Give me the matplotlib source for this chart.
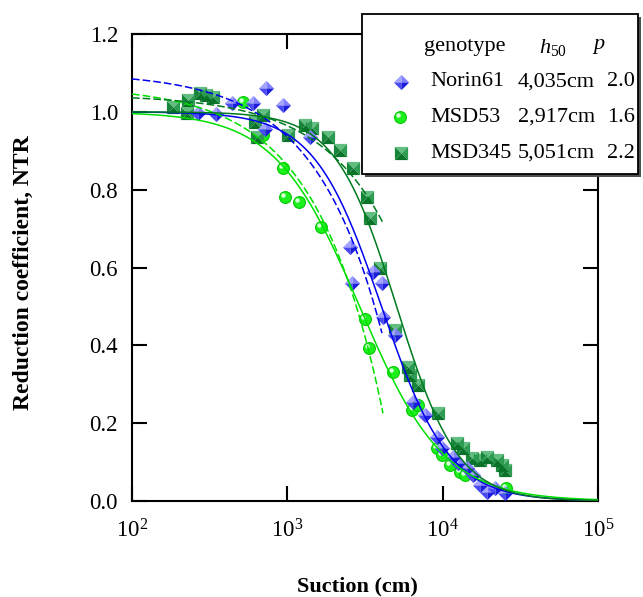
import numpy as np
import matplotlib
matplotlib.use('Agg')
import matplotlib.pyplot as plt
from matplotlib.path import Path
from matplotlib.patches import Rectangle
from matplotlib.markers import MarkerStyle
from matplotlib.transforms import Affine2D
from matplotlib.ticker import FixedLocator, FixedFormatter, NullLocator

plt.rcParams['font.family'] = ['Liberation Serif', 'DejaVu Serif']
plt.rcParams['mathtext.fontset'] = 'custom'
plt.rcParams['mathtext.rm'] = 'Liberation Serif'
plt.rcParams['mathtext.it'] = 'Liberation Serif:italic'
plt.rcParams['mathtext.bf'] = 'Liberation Serif:bold'

# ---------------- data ----------------
genotypes = ['Norin61', 'MSD53', 'MSD345']
h50 = [4035, 2917, 5051]
p_exp = [2.0, 1.6, 2.2]
h50_labels = ['4,035cm', '2,917cm', '5,051cm']
p_labels = ['2.0', '1.6', '2.2']

norin_h = [266, 347, 441, 601, 729, 938, 718, 1400, 2530, 3565, 4065, 2606, 4130, 4930,
           6440, 7700, 9210, 9910, 11660, 12570, 14350, 15700, 17400, 19300, 21750, 25200]
norin_ntr = [0.997, 0.995, 1.023, 1.023, 1.062, 1.018, 0.956, 0.936, 0.653, 0.589, 0.560, 0.560,
             0.473, 0.427, 0.254, 0.221, 0.165, 0.136, 0.113, 0.098, 0.085, 0.067, 0.041,
             0.023, 0.033, 0.021]

msd53_h = [519, 700, 938, 966, 1189, 1648, 3163, 3357, 4790, 6350, 6940, 9200, 9910,
           11140, 12930, 13930, 25600]
msd53_ntr = [1.026, 0.940, 0.856, 0.781, 0.769, 0.704, 0.468, 0.393, 0.332, 0.234, 0.247,
             0.136, 0.118, 0.093, 0.075, 0.067, 0.033]

msd345_h = [184, 226, 229, 274, 299, 332, 619, 697, 638, 1009, 1300, 1442, 1828, 2184,
            2648, 3260, 3405, 3950, 4930, 5990, 6160, 6940, 9330, 12360, 13510, 15450,
            17380, 19280, 22370, 24100, 25180]
msd345_ntr = [1.013, 0.997, 1.031, 1.049, 1.044, 1.039, 0.974, 0.992, 0.936, 0.941, 0.967,
              0.959, 0.936, 0.902, 0.856, 0.781, 0.728, 0.599, 0.440, 0.344, 0.324, 0.298,
              0.226, 0.149, 0.136, 0.111, 0.105, 0.113, 0.105, 0.093, 0.080]

# linear (dashed) fits: NTR = a - b*h, drawn up to hmax
dash_a = [1.101, 1.066, 1.044]
dash_b = [1.647e-4, 2.035e-4, 7.97e-5]
dash_hmax = [4065, 4130, 4130]

line_colors = ['#0000ee', '#00e000', '#007a1e']

# ---------------- marker helpers ----------------
def tri(pts):
    return Path(pts + [pts[0]], [Path.MOVETO, Path.LINETO, Path.LINETO, Path.CLOSEPOLY])

diamond_faces = [
    (tri([(-1, 0), (0, 1), (0, 0)]), '#a4a4ff'),
    (tri([(0, 1), (1, 0), (0, 0)]), '#8080ff'),
    (tri([(-1, 0), (0, -1), (0, 0)]), '#4a4af4'),
    (tri([(1, 0), (0, -1), (0, 0)]), '#1c1cdc'),
]
square_faces = [
    (tri([(-1, 1), (1, 1), (0, 0)]), '#62be80'),
    (tri([(-1, 1), (-1, -1), (0, 0)]), '#17853a'),
    (tri([(1, 1), (1, -1), (0, 0)]), '#2e9b52'),
    (tri([(-1, -1), (1, -1), (0, 0)]), '#0a7329'),
]


def draw_faces(ax, x, y, faces, ms, z):
    for path, col in faces:
        ax.plot(x, y, linestyle='none', marker=path, markersize=ms,
                markerfacecolor=col, markeredgewidth=0, zorder=z)


def draw_spheres(ax, x, y, ms, z):
    ax.plot(x, y, linestyle='none', marker='o', markersize=ms,
            markerfacecolor='#1ef01e', markeredgecolor='#00c800',
            markeredgewidth=0.8, zorder=z)
    hl = MarkerStyle('o', transform=Affine2D().translate(-0.45, 0.45))
    ax.plot(x, y, linestyle='none', marker=hl, markersize=3.2,
            markerfacecolor='#d8ffd8', markeredgewidth=0, zorder=z + 0.01)


# ---------------- figure ----------------
W, H = 643, 597
fig = plt.figure(figsize=(W / 100, H / 100), dpi=100)
ax = fig.add_axes([132 / W, 1 - 501 / H, 466 / W, 467 / H])

ax.set_xscale('log')
ax.set_xlim(100, 1e5)
ax.set_ylim(0, 1.2)

# curves
hh = np.logspace(2, 5, 400)
for i in range(3):
    ntr = 1.0 / (1.0 + (hh / h50[i]) ** p_exp[i])
    ax.plot(hh, ntr, color=line_colors[i], lw=1.1, zorder=6)
    hd = np.logspace(2, np.log10(dash_hmax[i]), 200)
    ax.plot(hd, dash_a[i] - dash_b[i] * hd, color=line_colors[i], lw=1.1,
            dashes=(5, 2), zorder=6)

# points
draw_spheres(ax, msd53_h, msd53_ntr, 8.5, 3)
draw_faces(ax, msd345_h, msd345_ntr, square_faces, 9.5, 4)
draw_faces(ax, norin_h, norin_ntr, diamond_faces, 11, 5)

# axes styling
for s in ax.spines.values():
    s.set_linewidth(1.5)
ax.xaxis.set_major_locator(FixedLocator([1e2, 1e3, 1e4, 1e5]))
ax.xaxis.set_major_formatter(FixedFormatter([r'$10^{2}$', r'$10^{3}$', r'$10^{4}$', r'$10^{5}$']))
ax.xaxis.set_minor_locator(NullLocator())
yt = [0.0, 0.2, 0.4, 0.6, 0.8, 1.0, 1.2]
ax.yaxis.set_major_locator(FixedLocator(yt))
ax.yaxis.set_major_formatter(FixedFormatter(['%.1f' % v for v in yt]))
ax.tick_params(axis='both', which='major', direction='in', length=10.5, width=1.5,
               labelsize=16.5, top=True, right=True)
ax.tick_params(axis='y', pad=10)
ax.tick_params(axis='x', pad=13)

ax.set_xlabel('Suction (cm)', fontsize=16, fontweight='bold')
ax.set_ylabel('Reduction coefficient, NTR', fontsize=17, fontweight='bold')
ax.xaxis.set_label_coords(0.483, -0.162)
ax.yaxis.set_label_coords(-0.21, 0.49)

# ---------------- legend box (pixel coords) ----------------
lax = fig.add_axes([0, 0, 1, 1], zorder=10)
lax.set_xlim(0, W)
lax.set_ylim(H, 0)
lax.axis('off')
lax.add_patch(Rectangle((365, 17), 276, 160, facecolor='#505050', edgecolor='none'))
lax.add_patch(Rectangle((362, 14), 276, 160, facecolor='white', edgecolor='black', lw=1.3))

fs = 16
lax.text(465, 47, 'genotype', fontsize=fs, ha='center', va='center')
lax.text(553, 47, r'$\mathit{h}_{\mathrm{50}}$', fontsize=fs, ha='center', va='center')
lax.text(599, 47, r'$\mathit{p}$', fontsize=fs, ha='center', va='center')
row_y = [82, 117, 153]
for i in range(3):
    lax.text(430, row_y[i], genotypes[i], fontsize=fs, ha='left', va='center')
    lax.text(595, row_y[i], h50_labels[i], fontsize=fs, ha='right', va='center')
    lax.text(607, row_y[i], p_labels[i], fontsize=fs, ha='left', va='center')
draw_faces(lax, [401], [row_y[0]], diamond_faces, 11, 12)
draw_spheres(lax, [400], [row_y[1]], 8.5, 12)
draw_faces(lax, [401], [row_y[2]], square_faces, 9.5, 12)

fig.savefig('out.png', dpi=100)
